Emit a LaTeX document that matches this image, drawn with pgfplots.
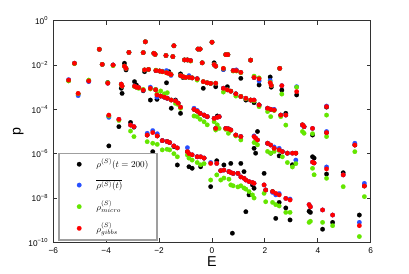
\documentclass[border=0pt]{standalone}
\usepackage{fontspec}
\setmainfont{Liberation Sans}
\usepackage{graphicx}
\usepackage{pgfplots}
\usepackage{pgfplotstable}
\pgfplotsset{compat=1.18}
\definecolor{pblue}{RGB}{40,80,255}
\definecolor{pgreen}{RGB}{100,230,0}
\definecolor{pred}{RGB}{255,0,0}
\definecolor{axgray}{RGB}{50,50,50}
\newcommand{\legtxt}[1]{\scalebox{0.64}{$#1$}}

\pgfplotstableread{
x R B G K
-5.20 1.20e-2 1.20e-2 1.15e-2 1.20e-2
-4.26 5.13e-2 5.13e-2 5.13e-2 5.13e-2
-4.15 1.07e-2 1.07e-2 1.07e-2 1.07e-2
-3.74 1.00e-2 1.00e-2 9.33e-3 1.00e-2
-3.31 8.91e-3 8.91e-3 8.91e-3 1.20e-2
-3.25 7.08e-3 7.08e-3 7.08e-3 6.03e-3
-3.14 3.72e-2 3.72e-2 3.72e-2 3.72e-2
-2.60 3.63e-2 3.63e-2 3.63e-2 3.63e-2
-2.52 1.12e-1 1.12e-1 1.12e-1 1.12e-1
-2.20 3.39e-2 3.39e-2 3.39e-2 3.39e-2
-2.15 3.02e-2 3.02e-2 3.02e-2 3.02e-2
-1.74 2.69e-2 2.69e-2 2.69e-2 2.69e-2
-1.48 2.40e-2 2.40e-2 2.40e-2 2.40e-2
-1.44 7.41e-2 7.41e-2 7.41e-2 7.41e-2
-1.04 1.70e-2 1.70e-2 1.70e-2 1.70e-2
-0.93 1.70e-2 1.70e-2 1.70e-2 1.70e-2
-0.81 1.58e-2 1.58e-2 1.51e-2 1.58e-2
-0.53 5.25e-2 5.25e-2 5.25e-2 5.25e-2
-0.45 5.25e-2 5.25e-2 5.25e-2 5.25e-2
-0.37 1.26e-2 1.26e-2 1.26e-2 1.26e-2
0.00 1.07e-1 1.07e-1 1.07e-1 1.07e-1
0.08 1.05e-2 1.05e-2 1.05e-2 1.26e-2
0.14 8.91e-3 8.91e-3 8.91e-3 8.91e-3
0.43 7.08e-3 6.31e-3 7.08e-3 6.31e-3
0.52 2.95e-2 2.95e-2 2.95e-2 2.95e-2
0.60 2.95e-2 2.95e-2 2.95e-2 2.95e-2
0.80 5.62e-3 5.62e-3 5.37e-3 5.62e-3
0.92 5.62e-3 6.03e-3 5.37e-3 5.62e-3
1.09 4.68e-3 4.68e-3 4.47e-3 2.51e-3
1.46 1.66e-2 1.66e-2 1.66e-2 1.66e-2
2.56 7.08e-3 7.08e-3 7.08e-3 7.08e-3
-2.55 6.03e-3 6.03e-3 6.03e-3 5.01e-3
-2.40 6.31e-3 6.31e-3 6.31e-3 6.31e-3
-2.12 5.62e-3 5.62e-3 5.89e-3 5.62e-3
-1.98 5.37e-3 5.37e-3 5.37e-3 5.37e-3
-1.88 5.01e-3 5.25e-3 5.01e-3 5.01e-3
-1.72 4.47e-3 5.62e-3 4.47e-3 1.58e-3
-1.63 4.17e-3 4.17e-3 4.17e-3 5.01e-3
-1.55 3.72e-3 3.39e-3 3.72e-3 3.72e-3
-1.19 3.31e-3 3.31e-3 3.31e-3 3.98e-3
-1.10 3.02e-3 3.02e-3 3.02e-3 2.75e-3
-1.00 2.75e-3 2.75e-3 2.75e-3 2.75e-3
-0.87 2.82e-3 3.31e-3 2.82e-3 2.82e-3
-0.75 2.63e-3 2.63e-3 2.63e-3 2.63e-3
-0.56 2.40e-3 2.40e-3 2.09e-3 2.40e-3
-0.33 1.78e-3 1.78e-3 1.78e-3 8.91e-4
-0.18 1.58e-3 1.58e-3 1.58e-3 1.58e-3
-0.05 1.48e-3 1.48e-3 1.48e-3 1.48e-3
0.14 1.51e-3 1.51e-3 1.51e-3 1.05e-3
0.43 8.91e-4 8.91e-4 6.03e-4 8.91e-4
0.58 7.59e-4 7.59e-4 7.59e-4 1.05e-3
0.71 6.61e-4 6.61e-4 6.61e-4 6.61e-4
0.90 5.01e-4 5.01e-4 3.98e-4 5.01e-4
1.09 3.80e-4 3.80e-4 3.80e-4 3.80e-4
1.28 3.16e-4 3.16e-4 3.02e-4 2.63e-4
1.46 2.63e-4 2.63e-4 2.63e-4 2.63e-4
1.59 2.63e-4 2.63e-4 2.40e-4 2.00e-4
1.78 1.58e-4 1.58e-4 1.32e-4 1.58e-4
2.10 1.12e-4 1.12e-4 7.94e-5 1.12e-4
2.22 1.00e-4 1.00e-4 4.68e-5 1.00e-4
2.35 9.33e-5 1.00e-4 8.91e-5 9.33e-5
2.60 5.50e-5 5.50e-5 4.68e-5 5.50e-5
2.79 5.50e-5 5.50e-5 1.95e-5 6.61e-5
3.42 2.00e-5 1.91e-5 1.00e-5 2.00e-5
3.48 1.66e-5 1.66e-5 8.32e-6 1.66e-5
3.80 1.38e-5 1.38e-5 7.94e-6 6.92e-6
4.33 8.91e-6 1.00e-5 5.89e-6 8.91e-6
1.59 2.75e-3 2.75e-3 3.16e-3 2.75e-3
1.78 2.40e-3 1.91e-3 2.63e-3 1.26e-3
2.20 1.58e-3 2.00e-3 1.66e-3 2.88e-3
2.24 1.20e-3 1.20e-3 1.20e-3 1.00e-3
2.64 1.17e-3 1.17e-3 4.90e-4 7.41e-4
3.20 6.31e-4 1.05e-3 1.00e-3 4.47e-4
4.33 1.32e-4 1.41e-4 5.50e-5 1.26e-4
-5.42 2.09e-3 2.19e-3 1.91e-3 2.00e-3
-5.06 5.25e-4 4.17e-4 5.01e-4 5.01e-4
-4.66 1.91e-3 1.78e-3 2.09e-3 1.91e-3
-3.94 1.51e-3 1.51e-3 1.58e-3 1.62e-3
-3.43 1.38e-3 1.38e-3 1.32e-3 8.91e-4
-3.40 1.12e-3 1.12e-3 1.12e-3 5.25e-4
-2.93 1.12e-3 1.12e-3 1.07e-3 1.78e-3
-2.86 1.00e-3 1.00e-3 1.00e-3 1.26e-3
-2.77 9.55e-4 9.55e-4 8.91e-4 9.55e-4
-2.60 7.41e-4 7.41e-4 7.94e-4 6.92e-4
-2.33 8.91e-4 1.00e-3 8.32e-4 2.63e-4
-2.13 7.59e-4 7.94e-4 7.94e-4 7.59e-4
-2.08 4.47e-4 3.55e-4 5.01e-4 2.82e-4
-1.94 3.98e-4 3.98e-4 6.76e-4 3.98e-4
-1.80 3.55e-4 3.55e-4 5.01e-4 3.55e-4
-1.69 3.16e-4 3.16e-4 5.62e-4 3.16e-4
-1.54 2.63e-4 2.63e-4 2.63e-4 1.12e-4
-1.38 2.40e-4 2.40e-4 1.86e-4 2.63e-4
-1.28 1.91e-4 1.91e-4 1.66e-4 1.91e-4
-1.19 1.26e-4 1.26e-4 1.12e-4 6.61e-5
-0.68 1.00e-4 1.12e-4 5.01e-5 1.00e-4
-0.56 8.32e-5 8.91e-5 4.68e-5 8.32e-5
-0.45 6.61e-5 6.61e-5 3.55e-5 6.61e-5
-0.30 5.50e-5 5.50e-5 2.75e-5 5.50e-5
-0.18 4.68e-5 4.68e-5 2.00e-5 4.68e-5
0.08 3.89e-5 3.89e-5 2.75e-5 3.89e-5
0.20 4.37e-5 4.37e-5 2.00e-5 5.01e-5
0.27 4.68e-5 4.68e-5 1.38e-5 4.68e-5
0.14 1.38e-5 1.38e-5 1.17e-5 1.38e-5
0.52 1.38e-5 1.38e-5 1.26e-5 1.38e-5
0.62 1.32e-5 1.32e-5 8.32e-6 1.32e-5
0.71 1.17e-5 1.17e-5 1.12e-5 1.17e-5
0.90 6.92e-6 6.92e-6 6.31e-6 6.92e-6
1.09 5.89e-6 5.89e-6 4.17e-6 5.89e-6
1.59 5.89e-6 6.31e-6 3.16e-6 1.74e-6
1.65 5.01e-6 5.01e-6 3.55e-6 1.05e-6
1.72 4.17e-6 4.17e-6 2.51e-6 1.00e-5
2.10 2.95e-6 2.95e-6 1.26e-6 2.95e-6
2.22 2.45e-6 2.45e-6 1.05e-6 1.05e-6
2.35 1.74e-6 2.00e-6 1.26e-6 1.74e-6
2.54 1.48e-6 1.74e-6 1.38e-6 7.94e-7
2.66 1.23e-6 1.23e-6 7.24e-7 1.23e-6
2.85 1.05e-6 1.05e-6 3.98e-7 1.05e-6
3.04 1.05e-6 1.05e-6 2.51e-7 3.16e-7
3.17 1.05e-6 5.13e-7 3.55e-7 1.05e-6
3.80 4.17e-7 4.17e-7 2.19e-7 7.24e-7
3.86 3.80e-7 3.80e-7 1.12e-7 6.31e-7
4.33 2.04e-7 2.51e-7 7.76e-8 1.20e-7
4.96 1.10e-7 1.10e-7 3.24e-8 1.38e-7
5.40 2.45e-6 2.95e-6 1.23e-6 2.45e-6
5.76 3.47e-8 4.57e-8 1.15e-8 3.47e-8
-3.90 5.50e-5 4.37e-5 5.01e-5 5.01e-5
-3.52 3.55e-5 3.55e-5 3.16e-5 1.66e-5
-3.08 1.95e-5 1.95e-5 1.05e-5 2.57e-5
-2.95 1.66e-5 1.66e-5 5.89e-6 1.58e-5
-2.45 6.92e-6 8.32e-6 3.47e-6 6.92e-6
-2.24 8.91e-6 1.10e-5 2.95e-6 1.23e-6
-2.07 6.31e-6 7.94e-6 2.63e-6 6.31e-6
-1.88 3.89e-6 3.89e-6 1.48e-6 3.89e-6
-1.70 3.55e-6 3.55e-6 1.58e-6 3.55e-6
-1.60 3.16e-6 3.16e-6 1.48e-6 3.16e-6
-1.44 2.24e-6 2.24e-6 1.00e-6 2.09e-6
-1.31 1.82e-6 1.82e-6 7.24e-7 3.09e-7
-0.93 1.23e-6 1.86e-6 8.71e-7 1.23e-6
-0.87 1.00e-6 1.00e-6 6.31e-7 2.57e-7
-0.75 8.91e-7 8.91e-7 5.13e-7 2.19e-7
-0.56 7.24e-7 7.24e-7 3.98e-7 7.24e-7
-0.43 7.24e-7 7.24e-7 3.16e-7 2.57e-7
-0.30 6.31e-7 6.31e-7 3.55e-7 6.31e-7
-0.05 3.63e-7 3.98e-7 6.46e-8 3.24e-8
0.18 3.63e-7 3.63e-7 1.10e-7 4.79e-7
0.33 1.70e-7 1.70e-7 6.46e-8 1.70e-7
0.45 1.82e-7 1.82e-7 7.94e-8 3.09e-7
0.64 1.55e-7 1.55e-7 7.08e-8 1.55e-7
0.71 1.41e-7 1.41e-7 3.89e-8 3.63e-7
0.80 1.29e-7 1.29e-7 3.55e-8 1.29e-7
0.98 1.29e-7 1.29e-7 3.16e-8 1.29e-7
1.09 8.91e-8 8.91e-8 3.55e-8 3.63e-7
1.21 7.76e-8 7.76e-8 2.82e-8 1.55e-7
1.28 6.46e-8 6.46e-8 2.51e-8 2.40e-9
1.40 5.50e-8 5.50e-8 1.95e-8 1.38e-8
1.53 5.01e-8 5.01e-8 1.38e-8 3.89e-8
1.59 4.57e-8 4.57e-8 1.00e-8 2.75e-8
1.97 3.89e-8 3.89e-8 1.62e-8 1.29e-7
2.03 2.29e-8 2.29e-8 6.76e-9 2.29e-8
2.29 1.95e-8 1.78e-8 6.31e-9 1.95e-8
2.41 1.62e-8 1.38e-8 5.01e-9 1.20e-9
2.54 1.38e-8 1.58e-8 4.37e-9 6.31e-9
2.79 9.55e-9 9.55e-9 2.24e-9 3.55e-9
2.95 8.13e-9 8.91e-9 2.24e-9 1.02e-9
3.67 5.01e-9 5.01e-9 7.94e-10 2.51e-9
3.72 3.98e-9 3.98e-9 8.91e-10 2.24e-9
4.18 2.88e-9 2.88e-9 7.94e-10 3.89e-10
4.56 1.70e-9 1.70e-9 5.62e-10 7.94e-10
5.57 5.62e-10 7.94e-10 1.82e-10 1.70e-9
}\data

\pgfplotstableread{
x K
0.77 2.57e-10
-3.90 2.24e-6
}\extrablack

\begin{document}
\begin{tikzpicture}
\path[use as bounding box] (-37.3pt,-21.5pt) rectangle (249.0pt,169.6pt);
\begin{axis}[
  at={(0,0)}, anchor=south west,
  scale only axis, width=222.2pt, height=155.1pt,
  ymode=log, xmin=-6, xmax=6, ymin=1e-10, ymax=1,
  xtick={-6,-4,-2,0,2,4,6},
  xticklabels={−6,−4,−2,0,2,4,6},
  ytick={1e-10,1e-8,1e-6,1e-4,1e-2,1},
  yticklabels={10\textsuperscript{−10},10\textsuperscript{−8},10\textsuperscript{−6},10\textsuperscript{−4},10\textsuperscript{−2},10\textsuperscript{0}},
  yminorticks=false, xminorticks=false,
  tick align=inside, major tick length=2.8pt,
  axis line style={axgray, line width=0.9pt},
  every tick/.style={axgray, line width=0.6pt},
  tick label style={font=\fontsize{5.8}{7}\selectfont},
  xlabel={E}, ylabel={p},
  label style={font=\fontsize{10}{12}\selectfont},
  every axis x label/.style={at={(axis description cs:0.5,-0.086)}, anchor=center},
  every axis y label/.style={at={(axis description cs:-0.11,0.5)}, anchor=center, rotate=90},
  legend image code/.code={\path (0cm,0cm) (0.66cm,0cm); \draw[#1] plot coordinates {(0.33cm,0cm)};},
  legend style={at={(axis description cs:0.016,0.007)}, anchor=south west,
    draw=gray!75, line width=1.2pt, fill=white,
    inner xsep=4pt, inner ysep=2pt, row sep=3pt,
    font=\fontsize{10}{12}\selectfont,
    cells={anchor=west}},
]
\addplot[only marks, mark=*, mark size=1.6pt, color=black, mark options={line width=0.1pt}] table[x=x, y=K] {\data};
\addlegendentry{\legtxt{\rho^{(S)}(t=200)}}
\addplot[only marks, mark=*, mark size=1.6pt, color=pblue, mark options={line width=0.1pt}] table[x=x, y=B] {\data};
\addlegendentry{\legtxt{\overline{\rho^{(S)}(t)}}}
\addplot[only marks, mark=*, mark size=1.6pt, color=pgreen, mark options={line width=0.1pt}] table[x=x, y=G] {\data};
\addlegendentry{\legtxt{\rho^{(S)}_{micro}}}
\addplot[only marks, mark=*, mark size=1.6pt, color=pred, mark options={line width=0.1pt}] table[x=x, y=R] {\data};
\addlegendentry{\legtxt{\rho^{(S)}_{gibbs}}}
\addplot[only marks, mark=*, mark size=1.6pt, color=black, mark options={line width=0.1pt}, forget plot] table[x=x, y=K] {\extrablack};
\end{axis}
\end{tikzpicture}
\end{document}
